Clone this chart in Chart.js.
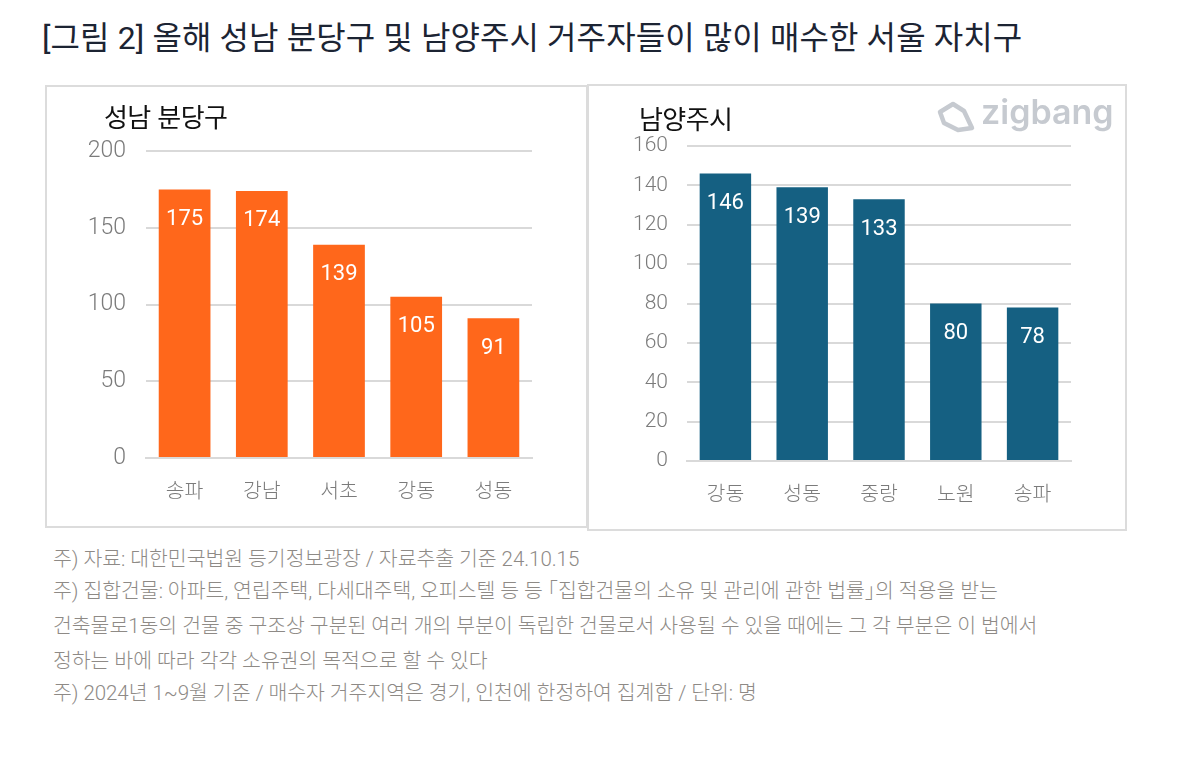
<!DOCTYPE html>
<html lang="ko">
<head>
<meta charset="utf-8">
<title>올해 성남 분당구 및 남양주시 거주자들이 많이 매수한 서울 자치구</title>
<script src="https://cdn.jsdelivr.net/npm/chart.js@4/dist/chart.umd.min.js"></script>
<style>
  html, body { margin: 0; padding: 0; background: #fff; }
  body { width: 1190px; height: 762px; position: relative; overflow: hidden; font-family: "Noto Sans CJK KR", sans-serif; }
  .abs { position: absolute; white-space: pre; line-height: 1; }
  #title { left: 42px; top: 22px; font-size: 32px; color: #1c2433; letter-spacing: 0.1px; font-family: Roboto, "Noto Sans CJK KR", sans-serif; }
  .panel { position: absolute; box-sizing: border-box; border: 2px solid #dcdcdc; }
  canvas { position: absolute; }
  .sub { font-size: 26px; color: #111; letter-spacing: -0.6px; }
  .note { left: 53px; font-size: 20.5px; font-weight: 300; color: #8e8a86; letter-spacing: -0.05px; font-family: Roboto, "Noto Sans CJK KR", sans-serif; }
  .half { font-feature-settings: "halt"; }
  #logo { left: 981px; top: 95px; font-family: Inter, sans-serif; font-weight: 600; font-size: 34px; color: #c6cad0; letter-spacing: 0; }
  #mark { position: absolute; left: 936px; top: 100px; }
</style>
</head>
<body>
<div id="title" class="abs">[그림 2] 올해 성남 분당구 및 남양주시 거주자들이 많이 매수한 서울 자치구</div>

<div class="panel" style="left:45px;top:85px;width:543px;height:443px"></div>
<div class="panel" style="left:587px;top:84px;width:540px;height:447px"></div>
<canvas id="leftChart" width="541" height="441" style="left:46px;top:86px"></canvas>
<canvas id="rightChart" width="538" height="445" style="left:588px;top:85px"></canvas>

<div class="abs sub" style="left:104px;top:103px">성남 분당구</div>
<div class="abs sub" style="left:639px;top:105px">남양주시</div>

<svg id="mark" width="40" height="34" viewBox="0 0 40 34">
  <path d="M4 12 L17 4 L28 11 L36 28 L22 30 L8 23 Z" fill="none" stroke="#c6cad0" stroke-width="4.5" stroke-linejoin="round"/>
</svg>
<div id="logo" class="abs">zigbang</div>

<div class="abs note" style="top:549px">주) 자료: 대한민국법원 등기정보광장 / 자료추출 기준 24.10.15</div>
<div class="abs note" style="top:581px">주) 집합건물: 아파트, 연립주택, 다세대주택, 오피스텔 등 등 <span class="half">「</span>집합건물의 소유 및 관리에 관한 법률<span class="half">」</span>의 적용을 받는</div>
<div class="abs note" style="top:616px">건축물로1동의 건물 중 구조상 구분된 여러 개의 부분이 독립한 건물로서 사용될 수 있을 때에는 그 각 부분은 이 법에서</div>
<div class="abs note" style="top:651px">정하는 바에 따라 각각 소유권의 목적으로 할 수 있다</div>
<div class="abs note" style="top:683px">주) 2024년 1~9월 기준 / 매수자 거주지역은 경기, 인천에 한정하여 집계함 / 단위: 명</div>

<script>
var leftLabels = ["송파", "강남", "서초", "강동", "성동"];
var leftValues = [175, 174, 139, 105, 91];
var rightLabels = ["강동", "성동", "중랑", "노원", "송파"];
var rightValues = [146, 139, 133, 80, 78];

var fontFamily = 'Roboto, "Noto Sans CJK KR", sans-serif';
var gridColor = "#d9d9d9";
var tickColor = "#7b7b7b";

// white value inside the top of each bar
var barValues = {
  id: "barValues",
  afterDatasetsDraw: function (chart) {
    var ctx = chart.ctx;
    var values = chart.data.datasets[0].data;
    ctx.save();
    ctx.fillStyle = "#fff";
    ctx.font = "400 22px " + fontFamily;
    ctx.textAlign = "center";
    ctx.textBaseline = "middle";
    chart.getDatasetMeta(0).data.forEach(function (bar, i) {
      ctx.fillText(values[i], bar.x, bar.y + 30);
    });
    ctx.restore();
  }
};

function makeChart(id, labels, values, color, maxValue, step, plotLeft, plotBottom, plotTop, tickSize, tickPad) {
  return new Chart(document.getElementById(id).getContext("2d"), {
    type: "bar",
    data: {
      labels: labels,
      datasets: [{ data: values, backgroundColor: color, barPercentage: 0.67, categoryPercentage: 1 }]
    },
    options: {
      responsive: false,
      animation: false,
      layout: { padding: { top: plotTop, right: 55, left: 0, bottom: 0 } },
      plugins: { legend: { display: false }, tooltip: { enabled: false } },
      scales: {
        x: {
          afterFit: function (scale) { scale.height = plotBottom; },
          grid: { display: false },
          border: { color: gridColor, width: 2 },
          ticks: { color: tickColor, padding: 14.5, font: { family: fontFamily, size: 20.5, weight: "300" } }
        },
        y: {
          min: 0,
          max: maxValue,
          afterFit: function (scale) { scale.width = plotLeft; },
          grid: { color: gridColor, lineWidth: 2, drawTicks: false },
          border: { display: false },
          ticks: { stepSize: step, color: tickColor, padding: tickPad, font: { family: fontFamily, size: tickSize, weight: "300" } }
        }
      }
    },
    plugins: [barValues]
  });
}

makeChart("leftChart", leftLabels, leftValues, "#ff671b", 200, 50, 100, 69, 65, 23, 20);
makeChart("rightChart", rightLabels, rightValues, "#156082", 160, 20, 99, 69, 61, 21, 19);
</script>
</body>
</html>
